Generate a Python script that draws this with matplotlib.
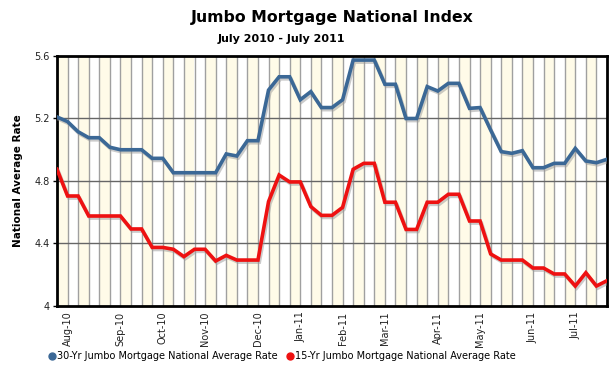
import matplotlib
matplotlib.use("Agg")
import matplotlib.pyplot as plt
import matplotlib.patheffects as pe

# weekly rates, late July 2010 to late July 2011
rate_30yr = [5.21, 5.18, 5.115, 5.077, 5.077, 5.016, 5.0, 5.0, 5.0, 4.945,
             4.945, 4.853, 4.853, 4.853, 4.853, 4.853, 4.973, 4.96, 5.058, 5.058,
             5.382, 5.467, 5.467, 5.32, 5.372, 5.27, 5.27, 5.32, 5.574, 5.574,
             5.574, 5.419, 5.419, 5.2, 5.2, 5.404, 5.376, 5.425, 5.425, 5.265,
             5.27, 5.126, 4.988, 4.977, 4.994, 4.885, 4.885, 4.913, 4.913, 5.009,
             4.928, 4.917, 4.939]
rate_15yr = [4.875, 4.704, 4.704, 4.576, 4.576, 4.576, 4.576, 4.493, 4.493, 4.375,
             4.375, 4.363, 4.316, 4.363, 4.363, 4.288, 4.324, 4.294, 4.294, 4.294,
             4.668, 4.838, 4.794, 4.794, 4.636, 4.58, 4.58, 4.631, 4.875, 4.913,
             4.913, 4.664, 4.664, 4.49, 4.49, 4.664, 4.664, 4.715, 4.715, 4.544,
             4.544, 4.333, 4.294, 4.294, 4.294, 4.243, 4.243, 4.205, 4.205, 4.128,
             4.213, 4.128, 4.162]

month_pos = [1, 6, 10, 14, 19, 23, 27, 31, 36, 40, 45, 49]
month_labels = ["Aug-10", "Sep-10", "Oct-10", "Nov-10", "Dec-10", "Jan-11",
                "Feb-11", "Mar-11", "Apr-11", "May-11", "Jun-11", "Jul-11"]
y_ticks = [4, 4.4, 4.8, 5.2, 5.6]
y_labels = ["4", "4.4", "4.8", "5.2", "5.6"]

blue = "#3b6896"
red = "#ee1111"


def main():
    fig = plt.figure(figsize=(6.15, 3.78), dpi=100)
    ax = fig.add_axes([57 / 615, 1 - 306 / 378, 550 / 615, 250 / 378])

    n = len(rate_30yr)
    # alternating cream columns between the weekly grid lines
    for i in range(0, n - 1, 2):
        ax.axvspan(i, i + 1, color="#fffbe8", lw=0, zorder=0)
    for i in range(1, n - 1):
        ax.axvline(i, color="#a0a0a0", lw=1, zorder=1)
    for y in y_ticks[1:-1]:
        ax.axhline(y, color="#666666", lw=1, zorder=1)

    x = list(range(n))
    shadow = [pe.SimpleLineShadow(offset=(1, -1.5), shadow_color="#999999", alpha=0.5),
              pe.Normal()]
    ax.plot(x, rate_30yr, color=blue, lw=2.6, zorder=3, path_effects=shadow,
            solid_joinstyle="miter",
            label="30-Yr Jumbo Mortgage National Average Rate")
    ax.plot(x, rate_15yr, color=red, lw=2.6, zorder=3, path_effects=shadow,
            solid_joinstyle="miter",
            label="15-Yr Jumbo Mortgage National Average Rate")

    ax.set_xlim(0, n - 1)
    ax.set_ylim(4, 5.6)
    ax.set_yticks(y_ticks)
    ax.set_yticklabels(y_labels, fontsize=7, color="#222222")
    ax.set_xticks(month_pos)
    ax.set_xticklabels(month_labels, rotation=90, fontsize=7, color="#222222")
    ax.tick_params(axis="x", length=0, pad=4)
    ax.tick_params(axis="y", length=3, width=1, pad=2)
    for s in ax.spines.values():
        s.set_linewidth(2)
        s.set_color("black")

    ax.set_ylabel("National Average Rate", fontsize=7.5, fontweight="bold", labelpad=8)

    fig.text(0.54, 0.955, "Jumbo Mortgage National Index", ha="center", va="center",
             fontsize=11.3, fontweight="bold")
    fig.text(0.458, 0.898, "July 2010 - July 2011", ha="center", va="center",
             fontsize=8, fontweight="bold")

    leg = fig.legend(loc="center", bbox_to_anchor=(0.459, 0.058), ncol=2, frameon=False,
                     fontsize=7, handlelength=0.6, handletextpad=0.2, columnspacing=1.0)
    for h in leg.legend_handles:
        h.set_linestyle("")
        h.set_marker("o")
        h.set_markersize(5)
        h.set_path_effects([])

    fig.savefig("out.png", dpi=100)


if __name__ == "__main__":
    main()
